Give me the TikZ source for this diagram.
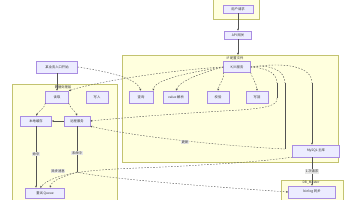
\documentclass[tikz,border=0pt]{standalone}
\usepackage{fontspec}
\newfontfamily\cjk{Noto Sans CJK SC}
\usetikzlibrary{arrows.meta}
\definecolor{clfill}{HTML}{FFFFDE}
\definecolor{clline}{HTML}{AAAA33}
\definecolor{ndfill}{HTML}{ECECFF}
\definecolor{ndline}{HTML}{9370DB}
\definecolor{edgec}{HTML}{333333}
\definecolor{lblbg}{HTML}{E8E8E8}
\begin{document}
\begin{tikzpicture}[x=1pt,y=-1pt,
 box/.style={draw=ndline!80,fill=ndfill,line width=0.35pt,inner sep=0pt,minimum height=11pt,font=\cjk\fontsize{3.3}{4}\selectfont,text=black!80},
 clus/.style={draw=clline!70,fill=clfill,line width=0.35pt},
 ctitle/.style={font=\cjk\fontsize{3.3}{4}\selectfont,inner sep=0.5pt,text=black!80},
 elab/.style={fill=lblbg,font=\cjk\fontsize{3.3}{4}\selectfont,inner sep=0.6pt,text=black!80},
 solidedge/.style={draw=edgec!85,line width=0.45pt,-{Latex[length=2pt,width=2pt]}},
 dotedge/.style={draw=edgec!85,line width=0.4pt,dash pattern=on 1.5pt off 1.5pt,-{Latex[length=2pt,width=2pt]}},
]
\useasboundingbox (0,0) rectangle (356,200);
\fill[white] (0,0) rectangle (356,200);
% clusters
\draw[clus] (213,-1) rectangle (259,19);
\draw[clus] (12,84) rectangle (117,201);
\draw[clus] (122,55) rectangle (338,162);
\draw[clus] (281,180) rectangle (343,201);
\node[ctitle] (tleft) at (63,87.5) {数据处理层};
\node[ctitle] (tmid) at (235,58.5) {IF 配置文件};
\node[ctitle] (tdb) at (311,183) {DB\_Master};
% nodes
\node[box,minimum width=30pt,minimum height=8pt] (ntop) at (238,9) {用户请求};
\node[box,minimum width=27pt,minimum height=8pt] (ngw) at (238,35) {API 网关};
\node[box,minimum width=41pt,minimum height=12pt] (nstart) at (57,67) {某业务入口开始};
\node[box,minimum width=23pt,minimum height=12pt] (nread) at (57,97) {读取};
\node[box,minimum width=22pt,minimum height=12pt] (nwrite) at (97,97) {写入};
\node[box,minimum width=31pt,minimum height=10pt] (nloc) at (36,121) {本地缓存};
\node[box,minimum width=26pt,minimum height=10pt] (nrem) at (77,121) {远程服务};
\node[box,minimum width=39pt,minimum height=10pt] (nbot) at (45,193) {重试 Queue};
\node[box,minimum width=27pt,minimum height=11pt] (nkv) at (237,67) {K/V 服务};
\node[box,minimum width=24pt,minimum height=12pt] (nq1) at (141,97) {查询};
\node[box,minimum width=25pt,minimum height=12pt] (nq2) at (176,97) {value 解析};
\node[box,minimum width=22pt,minimum height=12pt] (nq3) at (218,97) {校验};
\node[box,minimum width=22pt,minimum height=12pt] (nq4) at (257,97) {写回};
\node[box,minimum width=47pt,minimum height=12pt] (nmysql) at (316,151) {MySQL 主库};
\node[box,minimum width=47pt,minimum height=12pt] (ndb) at (312,192) {binlog 同步};
% junctions
\coordinate (cif) at (238,55);
\coordinate (ka) at (277,83);
\coordinate (kb) at (285,83);
\coordinate (kc) at (312,83);
\coordinate (kae) at (277,98);
\coordinate (kbe) at (285,149);
\coordinate (jn) at (77,172);
% edges
\draw[solidedge] (ntop) -- (ngw);
\draw[solidedge] (ngw) -- (cif);
\draw[solidedge] (nstart) -- (nread);
\draw[dotedge] (nstart.east) .. controls (110,72) and (136,78) .. (nq1.north);
\draw[dotedge] (nkv.west) .. controls (170,70) and (95,82) .. (nread.north east);
\draw[dotedge] (nkv.west) .. controls (200,71) and (155,78) .. (nq1.north east);
\draw[dotedge] (nkv.west) .. controls (205,72) and (180,80) .. (nq2.north);
\draw[dotedge] (nkv.south west) .. controls (225,78) and (219,84) .. (nq3.north);
\draw[dotedge] (nkv.south east) .. controls (252,78) and (257,84) .. (nq4.north);
\draw[dotedge,-] (nkv.east) .. controls (265,68) and (277,72) .. (ka);
\draw[dotedge,-] (nkv.east) .. controls (270,64) and (285,70) .. (kb);
\draw[dotedge,-] (nkv.east) .. controls (285,62) and (312,66) .. (kc);
\draw[solidedge,-] (ka) -- (kae);
\draw[solidedge,-] (kb) -- (kbe);
\draw[solidedge] (kc) -- (kc |- nmysql.north);
\draw[dotedge] (kae) .. controls (278,106) and (265,108) .. (240,110) .. controls (170,114) and (120,118) .. (nrem.east);
\draw[dotedge] (kbe) .. controls (240,147) and (140,138) .. (nrem.south east);
\node[elab] (lupd) at (185,142) {更新};
\draw[solidedge] (nrem) -- (nloc);
\draw[dotedge] (nread.south west) .. controls (45,108) and (38,112) .. (nloc.north);
\draw[dotedge] (nread.south east) .. controls (70,108) and (76,112) .. (nrem.north);
\draw[solidedge] (nloc) -- (nloc |- nbot.north) node[elab,pos=0.45] {命中};
\draw[solidedge,-] (nrem) -- (jn) node[elab,pos=0.58] {未命中};
\draw[dotedge] (jn) .. controls (65,176) and (52,180) .. ([xshift=5pt]nbot.north);
\draw[dotedge] (nmysql.south west) .. controls (285,158) and (260,162) .. (200,165) .. controls (130,170) and (60,166) .. ([xshift=-5pt]nbot.north);
\node[elab] (lasync) at (58,171) {异步消息};
\draw[dotedge] (jn) .. controls (100,178) and (200,186) .. (ndb.west);
\draw[solidedge] (nmysql.south -| ndb.north) -- (ndb.north) node[elab,midway] {1 次请求};
\end{tikzpicture}
\end{document}
